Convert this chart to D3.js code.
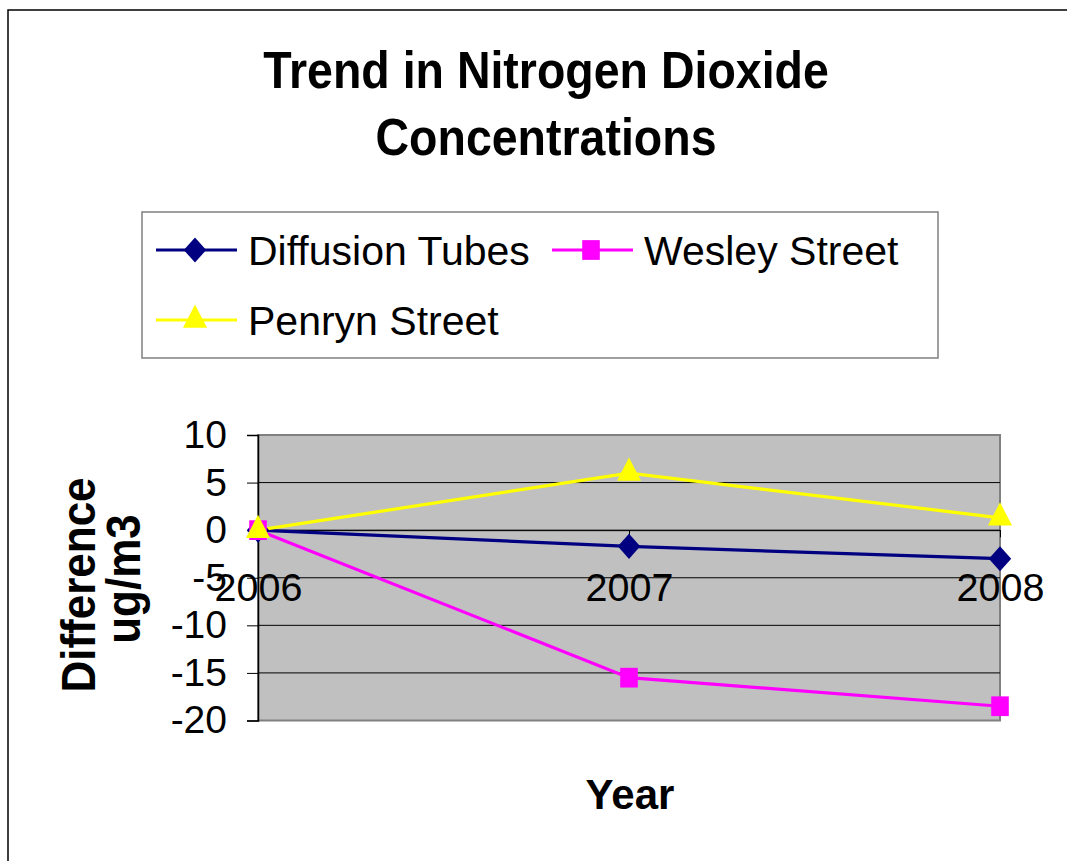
<!DOCTYPE html>
<html>
<head>
<meta charset="utf-8">
<script src="https://cdn.jsdelivr.net/npm/d3@7"></script>
<style>
  html, body { margin: 0; padding: 0; background: #fff; }
  svg { display: block; font-family: 'Liberation Sans', Arial, sans-serif; }
</style>
</head>
<body>
<div id="chart"></div>
<script>
const years = ['2006', '2007', '2008'];
const diffusionTubes = [0, -1.7, -3.0];
const wesleyStreet = [0, -15.5, -18.5];
const penrynStreet = [0, 6.0, 1.3];
const yTicks = [10, 5, 0, -5, -10, -15, -20];

const seriesList = [
  { name: 'Diffusion Tubes', values: diffusionTubes, color: '#000080', symbol: d3.symbolDiamond2, size: 320 },
  { name: 'Wesley Street', values: wesleyStreet, color: '#ff00ff', symbol: d3.symbolSquare, size: 310 },
  { name: 'Penryn Street', values: penrynStreet, color: '#ffff00', symbol: d3.symbolTriangle, size: 250 }
];

const width = 1067, height = 861;
const plot = { left: 258, right: 1000, top: 435, bottom: 720.5 };

const svg = d3.select('#chart').append('svg')
  .attr('width', width)
  .attr('height', height);

// outer chart border (runs off the right and bottom)
svg.append('rect')
  .attr('x', 8).attr('y', 10)
  .attr('width', 1100).attr('height', 900)
  .attr('fill', '#fff')
  .attr('stroke', '#000')
  .attr('stroke-width', 1.5);

// title
const title = svg.append('text')
  .attr('text-anchor', 'middle')
  .attr('font-weight', 'bold')
  .attr('font-size', 46.5)
  .attr('transform', 'translate(546,0) scale(1,1.1)');
title.append('tspan').attr('x', 0).attr('y', 88.5 / 1.1).text('Trend in Nitrogen Dioxide');
title.append('tspan').attr('x', 0).attr('y', 155.5 / 1.1).text('Concentrations');

const x = d3.scalePoint()
  .domain(years)
  .range([plot.left, plot.right]);

const y = d3.scaleLinear()
  .domain([-20, 10])
  .range([plot.bottom, plot.top]);

// plot area
svg.append('rect')
  .attr('x', plot.left).attr('y', plot.top)
  .attr('width', plot.right - plot.left)
  .attr('height', plot.bottom - plot.top)
  .attr('fill', '#c0c0c0')
  .attr('stroke', '#808080')
  .attr('stroke-width', 2);

// gridlines
svg.append('g')
  .selectAll('line')
  .data(yTicks.filter((t) => t !== 10 && t !== -20))
  .join('line')
    .attr('x1', plot.left).attr('x2', plot.right)
    .attr('y1', (d) => y(d)).attr('y2', (d) => y(d))
    .attr('stroke', '#000')
    .attr('stroke-width', 1);

// y axis
const yAxis = svg.append('g')
  .attr('transform', `translate(${plot.left},0)`)
  .call(d3.axisLeft(y).tickValues(yTicks).tickSize(11).tickPadding(20).tickFormat(d3.format('d')));
yAxis.select('.domain').attr('stroke', '#000').attr('stroke-width', 1.5);
yAxis.selectAll('.tick line').attr('stroke', '#000');
yAxis.selectAll('.tick text')
  .attr('font-size', 39)
  .attr('fill', '#000')
  .attr('font-family', "'Liberation Sans', Arial, sans-serif")
  .text((d) => String(d).replace('\u2212', '-'));

// category axis, crossing at zero
const xAxis = svg.append('g')
  .attr('transform', `translate(0,${y(0)})`)
  .call(d3.axisBottom(x).tickSize(7).tickPadding(36));
xAxis.select('.domain').attr('stroke', '#000').attr('stroke-width', 1);
xAxis.selectAll('.tick line').attr('stroke', '#000');
xAxis.selectAll('.tick text')
  .attr('font-size', 39.5)
  .attr('fill', '#000')
  .attr('font-family', "'Liberation Sans', Arial, sans-serif");

// series lines and markers
const line = d3.line()
  .x((d, i) => x(years[i]))
  .y((d) => y(d));

seriesList.forEach((s) => {
  svg.append('path')
    .datum(s.values)
    .attr('fill', 'none')
    .attr('stroke', s.color)
    .attr('stroke-width', 3.2)
    .attr('d', line);
});

seriesList.forEach((s) => {
  svg.append('g')
    .selectAll('path')
    .data(s.values)
    .join('path')
      .attr('transform', (d, i) => `translate(${x(years[i])},${y(d)}) scale(1,1.12)`)
      .attr('d', d3.symbol().type(s.symbol).size(s.size))
      .attr('fill', s.color);
});

// axis titles
const yTitle = svg.append('text')
  .attr('font-weight', 'bold')
  .attr('font-size', 44)
  .attr('text-anchor', 'middle')
  .attr('transform', 'translate(95,585) rotate(-90) scale(1,1.1)');
yTitle.append('tspan').attr('x', 0).attr('y', 0).text('Difference');
yTitle.append('tspan').attr('x', 6).attr('y', 41).text('ug/m3');

svg.append('text')
  .attr('x', 630).attr('y', 809)
  .attr('text-anchor', 'middle')
  .attr('font-weight', 'bold')
  .attr('font-size', 42)
  .text('Year');

// legend
const legend = svg.append('g');
legend.append('rect')
  .attr('x', 142).attr('y', 212)
  .attr('width', 796).attr('height', 146)
  .attr('fill', '#fff')
  .attr('stroke', '#808080')
  .attr('stroke-width', 1.5);

const legendPos = [
  { lx: 156, ly: 250 },
  { lx: 552, ly: 250 },
  { lx: 156, ly: 320 }
];

seriesList.forEach((s, i) => {
  const p = legendPos[i];
  const g = legend.append('g').attr('transform', `translate(${p.lx},${p.ly})`);
  g.append('line')
    .attr('x1', 0).attr('x2', 81)
    .attr('stroke', s.color)
    .attr('stroke-width', 3.2);
  g.append('path')
    .attr('transform', 'translate(39,0) scale(1,1.12)')
    .attr('d', d3.symbol().type(s.symbol).size(s.size)())
    .attr('fill', s.color);
  g.append('text')
    .attr('x', 92).attr('y', 14.5)
    .attr('font-size', 41)
    .attr('fill', '#000')
    .text(s.name);
});
</script>
</body>
</html>
